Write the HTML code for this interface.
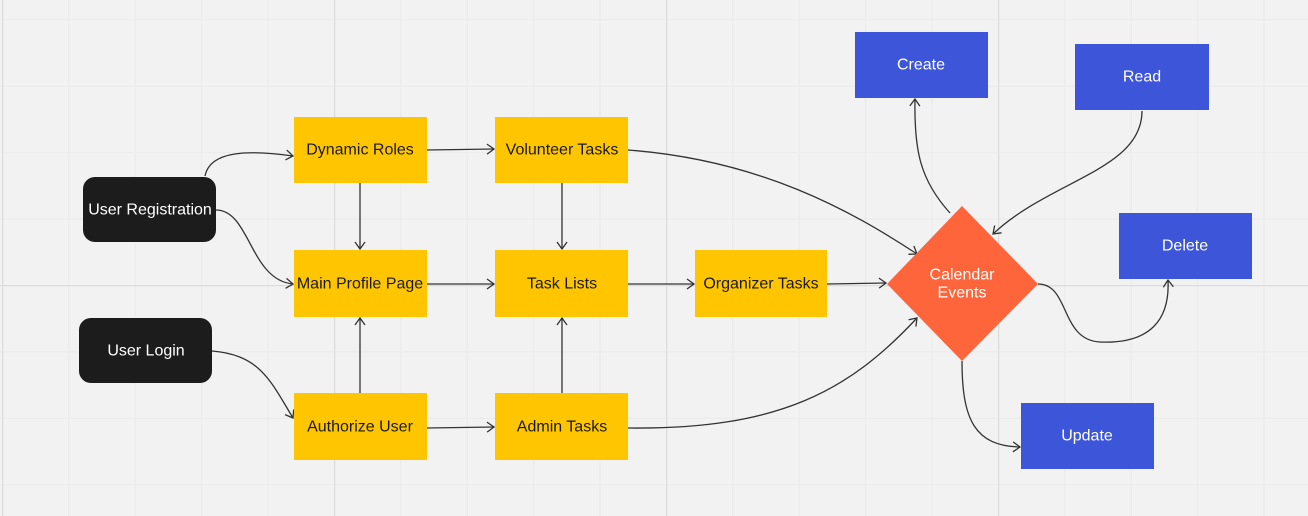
<!DOCTYPE html>
<html><head><meta charset="utf-8"><style>
html,body{margin:0;padding:0;background:#f2f2f2;}
svg{display:block}
text{font-family:"Liberation Sans",sans-serif;font-size:16px;text-anchor:middle;dominant-baseline:central}
</style></head><body>
<svg width="1308" height="516" viewBox="0 0 1308 516" xmlns="http://www.w3.org/2000/svg">
<defs>
<pattern id="g" x="2" y="-47" width="66.4" height="66.4" patternUnits="userSpaceOnUse">
<path d="M0 0V66.4M0 0H66.4" stroke="#e8e8e8" stroke-width="1.5" fill="none"/>
</pattern>
<pattern id="G" x="2" y="-47" width="332" height="332" patternUnits="userSpaceOnUse">
<path d="M0 0V332M0 0H332" stroke="#dcdcdc" stroke-width="2.5" fill="none"/>
</pattern>
<marker id="a" markerWidth="12" markerHeight="12" refX="10" refY="6" orient="auto" markerUnits="userSpaceOnUse">
<path d="M3 1L10 6L3 11" fill="none" stroke="#333" stroke-width="1.3"/>
</marker>
</defs>
<rect width="1308" height="516" fill="#f2f2f2"/>
<rect width="1308" height="516" fill="url(#g)"/>
<rect width="1308" height="516" fill="url(#G)"/>
<g fill="none" stroke="#333" stroke-width="1.3" marker-end="url(#a)">
<path d="M205 176C210 150 250 150 293 156"/>
<path d="M216 210C250 210 250 280 293 284"/>
<path d="M212 351C260 355 270 380 293 418"/>
<path d="M360 183V249"/>
<path d="M360 393V318"/>
<path d="M427 150L494 149"/>
<path d="M427 284H494"/>
<path d="M427 428L494 427"/>
<path d="M562 183V249"/>
<path d="M562 393V318"/>
<path d="M628 284H694"/>
<path d="M628 150C760 160 850 210 917 254"/>
<path d="M628 428C780 430 850 390 917 318"/>
<path d="M827 284L886 283"/>
<path d="M950 213C920 180 914 150 915 99"/>
<path d="M1142 111C1142 170 1050 180 993 234"/>
<path d="M1038 284C1070 284 1060 340 1100 342C1150 344 1170 320 1168 280"/>
<path d="M962 361C962 420 975 446 1020 447"/>
</g>
<g>
<rect x="83" y="177" width="133" height="65" rx="12" fill="#1c1c1c"/>
<text x="150" y="210" fill="#fff">User Registration</text>
<rect x="79" y="318" width="133" height="65" rx="12" fill="#1c1c1c"/>
<text x="146" y="351" fill="#fff">User Login</text>
</g>
<g fill="#ffc600">
<rect x="294" y="117" width="133" height="66"/>
<rect x="294" y="250" width="133" height="67"/>
<rect x="294" y="393" width="133" height="67"/>
<rect x="495" y="117" width="133" height="66"/>
<rect x="495" y="250" width="133" height="67"/>
<rect x="495" y="393" width="133" height="67"/>
<rect x="695" y="250" width="132" height="67"/>
</g>
<g fill="#1a1a1a">
<text x="360" y="150">Dynamic Roles</text>
<text x="360" y="284">Main Profile Page</text>
<text x="360" y="427">Authorize User</text>
<text x="562" y="150">Volunteer Tasks</text>
<text x="562" y="284">Task Lists</text>
<text x="562" y="427">Admin Tasks</text>
<text x="761" y="284">Organizer Tasks</text>
</g>
<polygon points="962,206 1038,284 962,361 887,284" fill="#ff653b"/>
<text x="962" y="275" fill="#fff">Calendar</text>
<text x="962" y="293" fill="#fff">Events</text>
<g fill="#3d55d9">
<rect x="855" y="32" width="133" height="66"/>
<rect x="1075" y="44" width="134" height="66"/>
<rect x="1119" y="213" width="133" height="66"/>
<rect x="1021" y="403" width="133" height="66"/>
</g>
<g fill="#fff">
<text x="921" y="65">Create</text>
<text x="1142" y="77">Read</text>
<text x="1185" y="246">Delete</text>
<text x="1087" y="436">Update</text>
</g>
</svg>
</body></html>
